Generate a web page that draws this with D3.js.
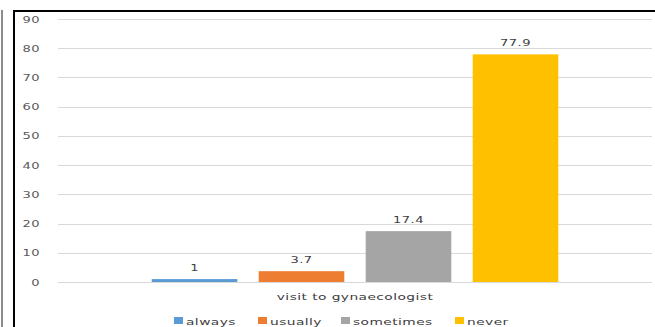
<!DOCTYPE html>
<html>
<head>
<meta charset="utf-8">
<script src="https://cdn.jsdelivr.net/npm/d3@7"></script>
<style>
  html, body { margin: 0; padding: 0; background: #fff; }
  svg { display: block; }
  text { font-family: "DejaVu Sans", sans-serif; fill: #404040; letter-spacing: 0.3px; }
  .tick-label { fill: #595959; }
</style>
</head>
<body>
<svg id="chart" width="655" height="327"></svg>
<script>
// Frequency of visits to a gynaecologist (%)
const categories = ["visit to gynaecologist"];
const seriesNames = ["always", "usually", "sometimes", "never"];
const seriesValues = [1, 3.7, 17.4, 77.9];
const seriesColors = ["#5b9bd5", "#ed7d31", "#a5a5a5", "#ffc000"];
const yTicks = [0, 10, 20, 30, 40, 50, 60, 70, 80, 90];

const svg = d3.select("#chart");
const W = 655, H = 327;
const plot = { left: 58, right: 652, top: 19, bottom: 282 };
const xStretch = 1.45;

// stretched text helper (wide face)
function label(g, x, y, str, size, anchor) {
  return g.append("text")
    .attr("transform", `translate(${x},${y}) scale(${xStretch},1)`)
    .attr("text-anchor", anchor || "middle")
    .attr("font-size", size)
    .text(str);
}

// page frame lines
svg.append("line").attr("x1", 2).attr("x2", 2).attr("y1", 10).attr("y2", H)
  .attr("stroke", "#8c8c8c").attr("stroke-width", 2);
svg.append("line").attr("x1", 14).attr("x2", 14).attr("y1", 10).attr("y2", H)
  .attr("stroke", "#000").attr("stroke-width", 2);
svg.append("line").attr("x1", 13).attr("x2", W).attr("y1", 11).attr("y2", 11)
  .attr("stroke", "#000").attr("stroke-width", 2);

const y = d3.scaleLinear().domain([0, 90]).range([plot.bottom, plot.top]);
const x0 = d3.scaleBand().domain(categories).range([plot.left, plot.right])
  .paddingInner(0).paddingOuter(0.194);
const x1 = d3.scaleBand().domain(seriesNames).range([0, x0.bandwidth()])
  .paddingInner(0.2).paddingOuter(0.1);

// gridlines
const grid = svg.append("g");
grid.selectAll("line").data(yTicks).join("line")
  .attr("x1", plot.left).attr("x2", plot.right)
  .attr("y1", d => Math.round(y(d)) + 0.5).attr("y2", d => Math.round(y(d)) + 0.5)
  .attr("stroke", "#d9d9d9").attr("stroke-width", 1);

// y tick labels
const yAxis = svg.append("g");
yTicks.forEach(t => label(yAxis, 40, y(t) + 3.5, String(t), 9, "end").attr("class", "tick-label"));

// bars
const data = seriesNames.map((s, i) => ({ cat: categories[0], name: s, value: seriesValues[i], color: seriesColors[i] }));
const bars = svg.append("g");
bars.selectAll("rect").data(data).join("rect")
  .attr("x", d => x0(d.cat) + x1(d.name))
  .attr("width", x1.bandwidth())
  .attr("y", d => y(d.value))
  .attr("height", d => y(0) - y(d.value))
  .attr("fill", d => d.color);

// value labels
const vals = svg.append("g");
data.forEach(d => label(vals, x0(d.cat) + x1(d.name) + x1.bandwidth() / 2, y(d.value) - 8, String(d.value), 9));

// category axis title
label(svg.append("g"), x0(categories[0]) + x0.bandwidth() / 2, 300, categories[0], 9.5);

// legend
const legend = svg.append("g");
const legendX = [174, 258, 341, 455];
data.forEach((d, i) => {
  legend.append("rect").attr("x", legendX[i]).attr("y", 317).attr("width", 9).attr("height", 7).attr("fill", d.color);
  label(legend, legendX[i] + 12, 324.5, d.name, 9.5, "start");
});
</script>
</body>
</html>
